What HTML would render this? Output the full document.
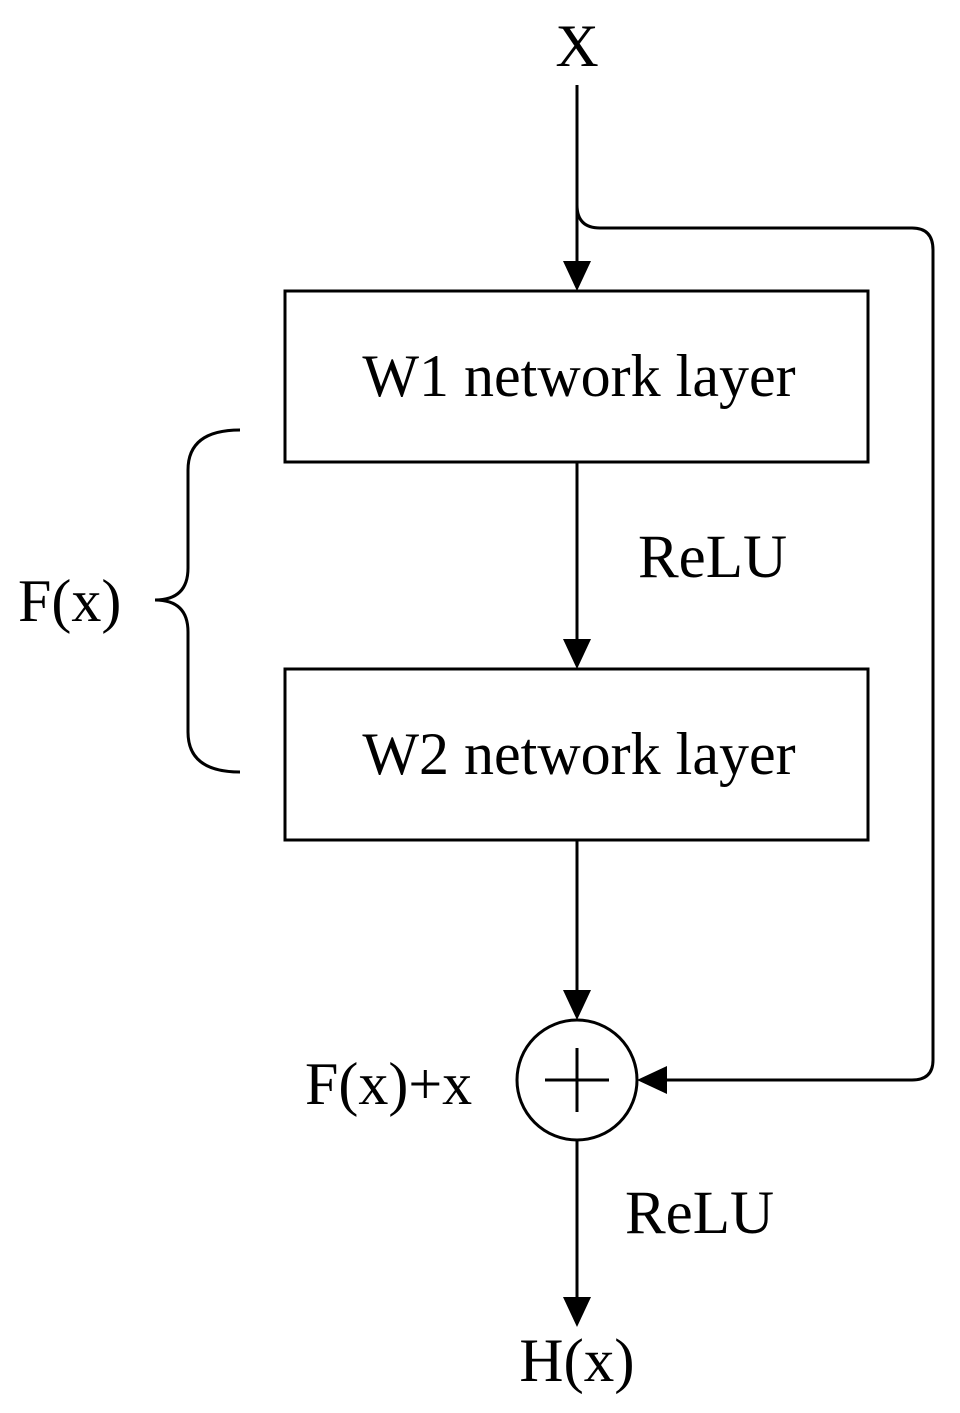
<!DOCTYPE html>
<html><head><style>
html,body{margin:0;padding:0;background:#fff;}
svg{display:block;}
text{font-family:"Liberation Serif",serif;fill:#000;}
</style></head><body>
<svg width="960" height="1413" viewBox="0 0 960 1413" xmlns="http://www.w3.org/2000/svg">
<g fill="none" stroke="#000" stroke-width="3">
<line x1="577" y1="85" x2="577" y2="265"/>
<path d="M577 205 Q577 228 600 228 L912 228 Q933 228 933 250 L933 1060 Q933 1080 912 1080 L662 1080"/>
<rect x="285" y="291" width="583" height="171"/>
<line x1="577" y1="462" x2="577" y2="643"/>
<rect x="285" y="669" width="583" height="171"/>
<line x1="577" y1="840" x2="577" y2="995"/>
<circle cx="577" cy="1080" r="60"/>
<line x1="577" y1="1048" x2="577" y2="1112"/>
<line x1="545" y1="1080" x2="609" y2="1080"/>
<line x1="577" y1="1140" x2="577" y2="1300"/>
<path d="M240 430 Q188 430 188 470 L188 568 Q188 600 155 600 Q188 600 188 632 L188 732 Q188 772 240 772"/>
</g>
<g fill="#000">
<polygon points="577,291 563,261 591,261"/>
<polygon points="577,669 563,639 591,639"/>
<polygon points="577,1020 563,990 591,990"/>
<polygon points="577,1327 563,1297 591,1297"/>
<polygon points="637,1080 667,1066 667,1094"/>
</g>
<text x="577" y="66" font-size="60" text-anchor="middle">X</text>
<text x="579" y="396" font-size="60" text-anchor="middle">W1 network layer</text>
<text x="638" y="577" font-size="61">ReLU</text>
<text x="579" y="774" font-size="60" text-anchor="middle">W2 network layer</text>
<text x="18" y="621" font-size="60">F(x)</text>
<text x="305" y="1104" font-size="60">F(x)+x</text>
<text x="625" y="1233" font-size="61">ReLU</text>
<text x="577" y="1381" font-size="61" text-anchor="middle">H(x)</text>
</svg>
</body></html>
